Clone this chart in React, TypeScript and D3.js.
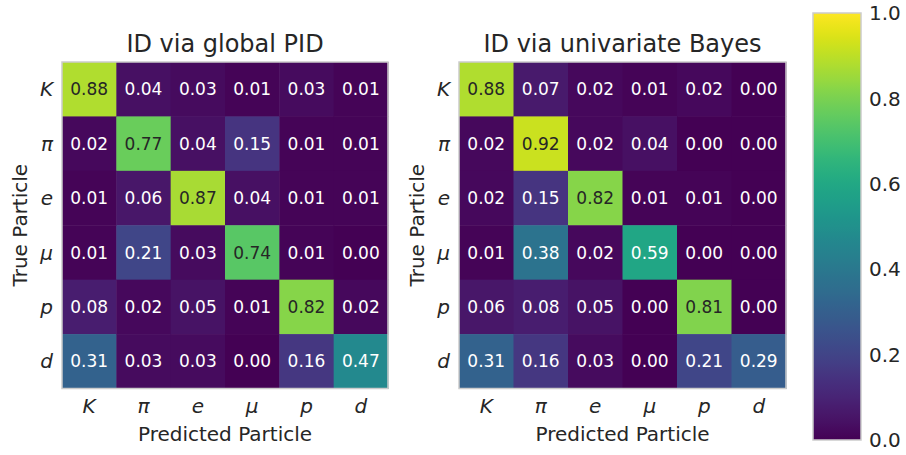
import React from "react";
import * as d3 from "d3";

const particles = ["K", "π", "e", "μ", "p", "d"];
const titles = ["ID via global PID", "ID via univariate Bayes"];
const globalPID = [
  [0.88, 0.04, 0.03, 0.01, 0.03, 0.01],
  [0.02, 0.77, 0.04, 0.15, 0.01, 0.01],
  [0.01, 0.06, 0.87, 0.04, 0.01, 0.01],
  [0.01, 0.21, 0.03, 0.74, 0.01, 0.0],
  [0.08, 0.02, 0.05, 0.01, 0.82, 0.02],
  [0.31, 0.03, 0.03, 0.0, 0.16, 0.47],
];
const univariateBayes = [
  [0.88, 0.07, 0.02, 0.01, 0.02, 0.0],
  [0.02, 0.92, 0.02, 0.04, 0.0, 0.0],
  [0.02, 0.15, 0.82, 0.01, 0.01, 0.0],
  [0.01, 0.38, 0.02, 0.59, 0.0, 0.0],
  [0.06, 0.08, 0.05, 0.0, 0.81, 0.0],
  [0.31, 0.16, 0.03, 0.0, 0.21, 0.29],
];
const colorbarTicks = [0, 0.2, 0.4, 0.6, 0.8, 1.0];

const FONT = "'DejaVu Sans', sans-serif";
const TXT = "#262626";
const EDGE = "#cccccc";

function luminance(c: string) {
  const rgb = d3.rgb(c);
  const f = (v: number) => {
    const x = v / 255;
    return x <= 0.03928 ? x / 12.92 : Math.pow((x + 0.055) / 1.055, 2.4);
  };
  return 0.2126 * f(rgb.r) + 0.7152 * f(rgb.g) + 0.0722 * f(rgb.b);
}

function Heatmap({ data, title, x0, x1, y0, y1 }: any) {
  const xs = d3.scaleBand().domain(particles).range([x0, x1]);
  const ys = d3.scaleBand().domain(particles).range([y0, y1]);
  const color = (v: number) => d3.interpolateViridis(v);
  const cx = (x0 + x1) / 2;
  const cy = (y0 + y1) / 2;
  return (
    <g>
      <text x={cx} y={52} textAnchor="middle" fontSize={24} fill={TXT} fontFamily={FONT}>
        {title}
      </text>
      {data.map((row: number[], i: number) =>
        row.map((v: number, j: number) => {
          const c = color(v);
          const tc = luminance(c) > 0.408 ? TXT : "#ffffff";
          return (
            <g key={`${i}-${j}`}>
              <rect
                x={xs(particles[j])!}
                y={ys(particles[i])!}
                width={xs.bandwidth() + 0.5}
                height={ys.bandwidth() + 0.5}
                fill={c}
              />
              <text
                x={xs(particles[j])! + xs.bandwidth() / 2}
                y={ys(particles[i])! + ys.bandwidth() / 2}
                dy="0.36em"
                textAnchor="middle"
                fontSize={17}
                fill={tc}
                fontFamily={FONT}
              >
                {v.toFixed(2)}
              </text>
            </g>
          );
        })
      )}
      <rect x={x0} y={y0} width={x1 - x0} height={y1 - y0} fill="none" stroke={EDGE} strokeWidth={1.5} />
      {particles.map((p) => (
        <text
          key={"x" + p}
          x={xs(p)! + xs.bandwidth() / 2}
          y={y1 + 24}
          textAnchor="middle"
          fontSize={20}
          fontStyle="italic"
          fill={TXT}
          fontFamily={FONT}
        >
          {p}
        </text>
      ))}
      {particles.map((p) => (
        <text
          key={"y" + p}
          x={x0 - 9}
          y={ys(p)! + ys.bandwidth() / 2}
          dy="0.36em"
          textAnchor="end"
          fontSize={20}
          fontStyle="italic"
          fill={TXT}
          fontFamily={FONT}
        >
          {p}
        </text>
      ))}
      <text x={cx} y={y1 + 52} textAnchor="middle" fontSize={20} fill={TXT} fontFamily={FONT}>
        Predicted Particle
      </text>
      <text
        transform={`translate(${x0 - 35},${cy}) rotate(-90)`}
        textAnchor="middle"
        fontSize={20}
        fill={TXT}
        fontFamily={FONT}
      >
        True Particle
      </text>
    </g>
  );
}

export default function App() {
  const cbX = 813;
  const cbW = 48;
  const cbTop = 13;
  const cbBot = 440;
  const cs = d3.scaleLinear().domain([0, 1]).range([cbBot, cbTop]);
  const stops = d3.range(0, 1.0001, 0.02);
  return (
    <svg width={906} height={455} style={{ position: "absolute", left: 0, top: 0, background: "#fff" }}>
      <defs>
        <linearGradient id="viridis" x1="0" y1="1" x2="0" y2="0">
          {stops.map((s) => (
            <stop key={s} offset={s} stopColor={d3.interpolateViridis(s)} />
          ))}
        </linearGradient>
      </defs>
      <Heatmap data={globalPID} title={titles[0]} x0={62} x1={388} y0={62} y1={388.5} />
      <Heatmap data={univariateBayes} title={titles[1]} x0={459} x1={786} y0={62} y1={388.5} />
      <rect x={cbX} y={cbTop} width={cbW} height={cbBot - cbTop} fill="url(#viridis)" stroke={EDGE} strokeWidth={1.5} />
      {colorbarTicks.map((t) => (
        <text key={t} x={cbX + cbW + 8} y={cs(t)} dy="0.36em" fontSize={20} fill={TXT} fontFamily={FONT}>
          {t.toFixed(1)}
        </text>
      ))}
    </svg>
  );
}
